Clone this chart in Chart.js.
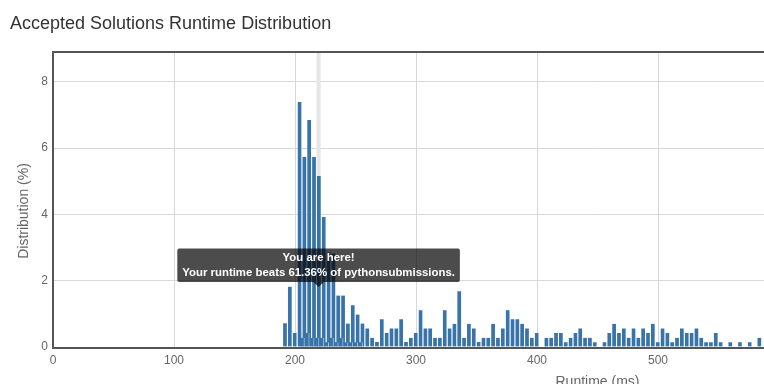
<!DOCTYPE html>
<html lang="en">
<head>
    <meta charset="UTF-8">
    <title>Accepted Solutions Runtime Distribution</title>
    <script src="https://cdn.jsdelivr.net/npm/chart.js"></script>
    <style>
        html, body { margin: 0; padding: 0; background: #fff; overflow: hidden; }
        #heading { position: absolute; left: 10px; top: 13px; font: 18px/20px "Liberation Sans", Arial, sans-serif; color: #333; white-space: nowrap; }
        #wrap { position: absolute; left: 0; top: 0; width: 1150px; height: 395px; }
    </style>
</head>
<body>
    <div id="wrap"><canvas id="runtimeChart" width="1150" height="395"></canvas></div>
    <div id="heading">Accepted Solutions Runtime Distribution</div>

    <script>
        // main columns, one every 4 ms
        const runtimeMs = [192, 196, 200, 204, 208, 212, 216, 220, 224, 228, 232, 236, 240, 244, 248, 252, 256, 260, 264, 268,
            272, 276, 280, 284, 288, 292, 296, 300, 304, 308, 312, 316, 320, 324, 328, 332, 336, 340, 344, 348,
            352, 356, 360, 364, 368, 372, 376, 380, 384, 388, 392, 396, 400, 408, 412, 416, 420, 424, 428, 432,
            436, 440, 444, 448, 456, 460, 464, 468, 472, 476, 480, 484, 488, 492, 496, 500, 504, 508, 512, 516,
            520, 524, 528, 532, 536, 540, 544, 548, 552, 560, 568, 576, 584];
        const distribution = [0.72, 1.82, 0.42, 7.39, 5.73, 6.85, 5.73, 5.16, 3.92, 2.85, 2.82, 1.55, 1.55, 0.71, 1.26, 0.98, 0.71, 0.56, 0.28, 0.15,
            0.84, 0.42, 0.56, 0.56, 0.84, 0.15, 0.28, 0.42, 1.11, 0.56, 0.56, 0.28, 0.28, 1.11, 0.56, 0.70, 1.68, 0.28, 0.70, 0.56,
            0.15, 0.28, 0.28, 0.70, 0.28, 0.56, 1.11, 0.84, 0.84, 0.70, 0.56, 0.28, 0.42, 0.28, 0.28, 0.42, 0.42, 0.14, 0.28, 0.42,
            0.56, 0.28, 0.28, 0.14, 0.14, 0.42, 0.70, 0.42, 0.56, 0.28, 0.56, 0.28, 0.56, 0.42, 0.70, 0.14, 0.56, 0.42, 0.14, 0.28,
            0.56, 0.42, 0.42, 0.56, 0.28, 0.14, 0.14, 0.42, 0.14, 0.14, 0.14, 0.14, 0.28];

        // small in-between columns
        const minorRuntimeMs = [206, 210, 214, 218, 222, 226, 230, 234, 238, 242, 246, 250, 254];
        const minorDistribution = [0.28, 0.42, 0.28, 0.28, 0.28, 0.14, 0.28, 0.14, 0.28, 0.14, 0.14, 0.14, 0.14];

        const myRuntime = 219.5;
        const beatsText = 'Your runtime beats 61.36% of pythonsubmissions.';
        const yTitle = 'Distribution (%)';

        const barColor = '#3873aa';
        const gridColor = '#d8d8d8';
        const frameColor = '#555555';

        Chart.defaults.font.family = '"Liberation Sans", Arial, sans-serif';
        Chart.defaults.color = '#666';

        Chart.Tooltip.positioners.youAreHere = function () {
            const c = this.chart;
            return { x: c.scales.x.getPixelForValue(myRuntime), y: c.scales.y.getPixelForValue(1.81) };
        };

        const framePlugin = {
            id: 'frame',
            beforeDatasetsDraw(chart) {
                const { ctx, chartArea, scales } = chart;
                const x0 = scales.x.getPixelForValue(myRuntime - 1.7);
                const x1 = scales.x.getPixelForValue(myRuntime + 1.7);
                ctx.save();
                ctx.fillStyle = '#e6e6e6';
                ctx.fillRect(x0, chartArea.top, x1 - x0, chartArea.bottom - chartArea.top);
                ctx.restore();
            },
            afterDatasetsDraw(chart) {
                const { ctx, chartArea } = chart;
                ctx.save();
                ctx.strokeStyle = frameColor;
                ctx.lineWidth = 2;
                ctx.beginPath();
                ctx.moveTo(chartArea.right, chartArea.top);
                ctx.lineTo(chartArea.left, chartArea.top);
                ctx.lineTo(chartArea.left, chartArea.bottom + 1);
                ctx.lineTo(chartArea.right, chartArea.bottom + 1);
                ctx.stroke();

                // y axis title, a bit below the plot centre like the original
                ctx.translate(24, 211);
                ctx.rotate(-Math.PI / 2);
                ctx.fillStyle = '#666';
                ctx.font = '14px "Liberation Sans", Arial, sans-serif';
                ctx.textAlign = 'center';
                ctx.textBaseline = 'middle';
                ctx.fillText(yTitle, 0, 0);
                ctx.restore();
            }
        };

        const barStyle = {
            backgroundColor: barColor,
            borderColor: 'rgba(255,255,255,0.55)',
            borderWidth: { top: 0, right: 1, bottom: 0, left: 0 },
            borderSkipped: false,
            barThickness: 4.4,
            grouped: false
        };

        const chart = new Chart(document.getElementById('runtimeChart'), {
            type: 'bar',
            data: {
                datasets: [
                    Object.assign({
                        label: 'Distribution',
                        order: 1,
                        data: runtimeMs.map((t, i) => ({ x: t, y: distribution[i] }))
                    }, barStyle),
                    Object.assign({
                        label: 'Distribution (minor)',
                        order: 0,
                        data: minorRuntimeMs.map((t, i) => ({ x: t, y: minorDistribution[i] }))
                    }, barStyle)
                ]
            },
            options: {
                responsive: false,
                animation: false,
                events: [],
                layout: { padding: { top: 52, right: 8, left: 0, bottom: 0 } },
                scales: {
                    x: {
                        type: 'linear',
                        min: 0,
                        max: 900,
                        bounds: 'data',
                        offset: false,
                        grid: { color: gridColor, offset: false, drawTicks: false },
                        border: { display: false },
                        ticks: { stepSize: 100, padding: 6, font: { size: 12 }, maxRotation: 0 },
                        title: { display: true, text: 'Runtime (ms)', font: { size: 14 }, padding: { top: 0, bottom: 4 } },
                        afterFit(scale) {
                            scale.height = 48;
                            scale.paddingLeft = 0;
                            scale.paddingRight = 0;
                        }
                    },
                    y: {
                        min: 0,
                        max: 8.9,
                        bounds: 'data',
                        grid: { color: gridColor, drawTicks: false },
                        border: { display: false },
                        ticks: { stepSize: 2, includeBounds: false, padding: 5, font: { size: 12 } },
                        title: { display: false },
                        afterFit(scale) { scale.width = 53; }
                    }
                },
                plugins: {
                    legend: { display: false },
                    tooltip: {
                        position: 'youAreHere',
                        xAlign: 'center',
                        yAlign: 'bottom',
                        caretSize: 5,
                        caretPadding: 0,
                        cornerRadius: 2,
                        backgroundColor: 'rgba(0,0,0,0.7)',
                        titleColor: '#fff',
                        bodyColor: '#fff',
                        titleFont: { size: 11.4, weight: 'bold', lineHeight: 1.25 },
                        bodyFont: { size: 11.4, weight: 'bold', lineHeight: 1.25 },
                        titleAlign: 'center',
                        bodyAlign: 'center',
                        titleMarginBottom: 0,
                        padding: { top: 2.5, bottom: 2.5, left: 5, right: 5 },
                        displayColors: false,
                        callbacks: {
                            title: () => 'You are here!',
                            label: () => beatsText
                        }
                    }
                }
            },
            plugins: [framePlugin]
        });

        chart.tooltip.setActiveElements([{ datasetIndex: 0, index: runtimeMs.indexOf(220) }], { x: 0, y: 0 });
        chart.update();
    </script>
</body>
</html>
